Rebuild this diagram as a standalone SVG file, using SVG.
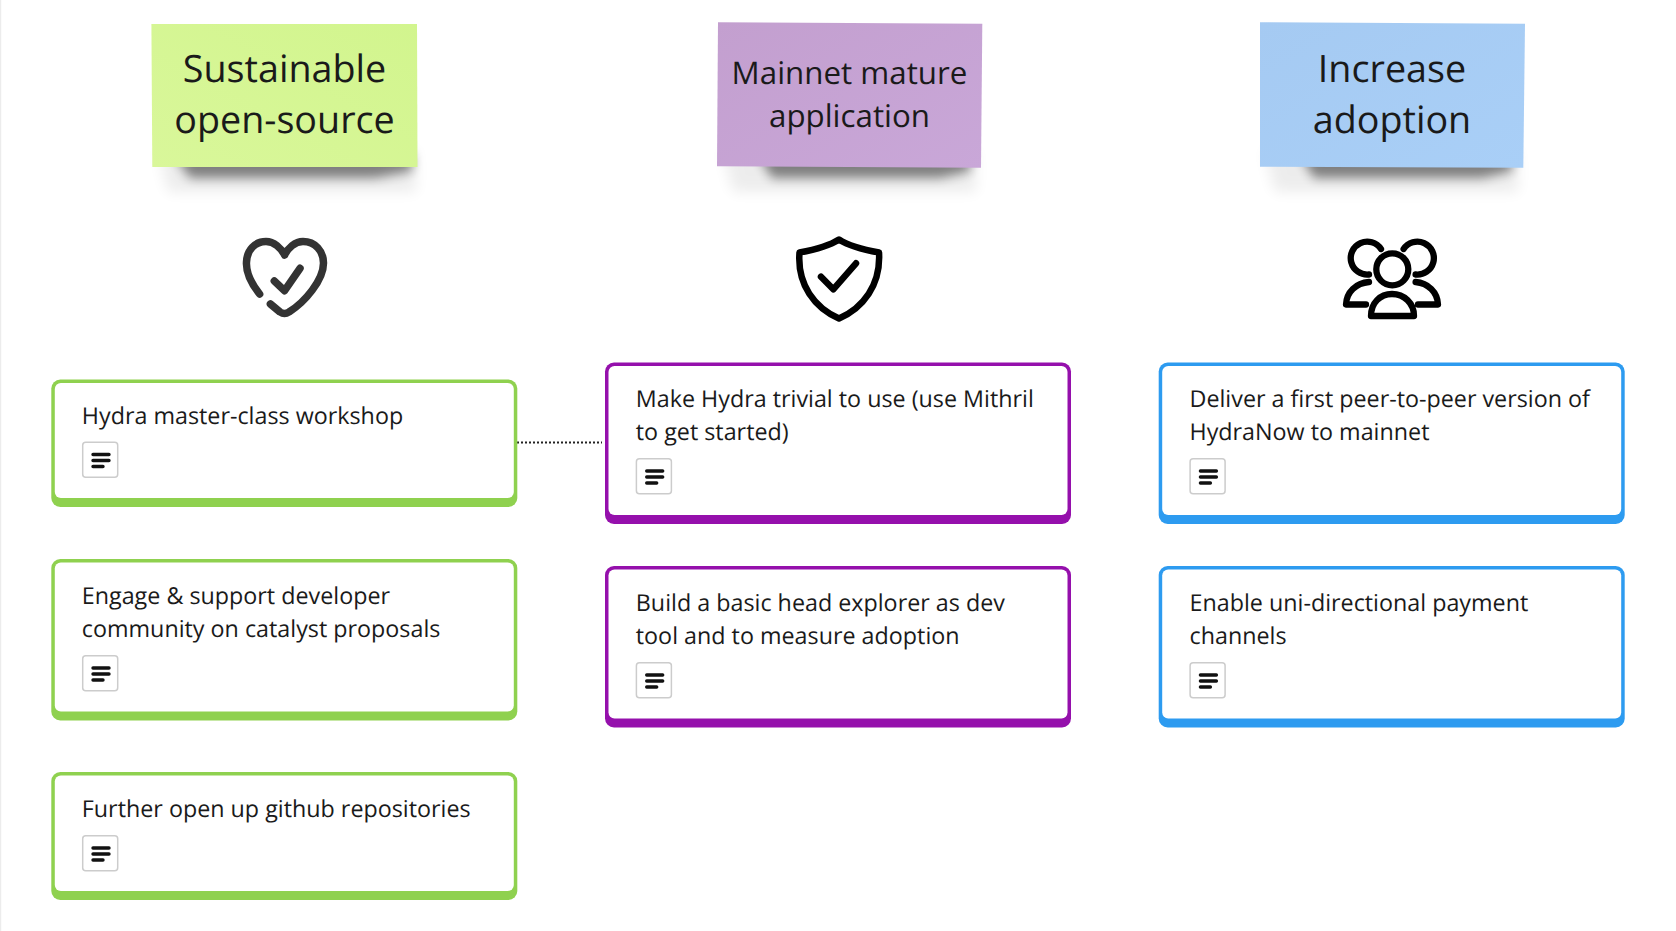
<svg xmlns="http://www.w3.org/2000/svg" width="1676" height="931" viewBox="0 0 1676 931">
<style>
text{font-family:"Open Sans","Noto Sans","Liberation Sans",sans-serif;fill:#1a1a1a;text-rendering:geometricPrecision}
.t{font-size:23.3px}
.h{font-size:37.7px;text-anchor:middle}
.m{font-size:31.3px;text-anchor:middle}
.b{fill:#fff;stroke:#ccc;stroke-width:1.5}
.l{stroke:#111;stroke-width:3.4;stroke-linecap:round}
.i{fill:none;stroke-linecap:round;stroke-linejoin:round}
.sa{fill:#000;opacity:.46;filter:url(#b1)}
.sb{fill:#000;opacity:.07;filter:url(#b2)}
.g{fill:#8fd14f}.p{fill:#9510ac}.c{fill:#2d9bf0}
</style>
<defs>
<filter id="b1" x="-20%" y="-100%" width="140%" height="300%"><feGaussianBlur stdDeviation="5.500"/></filter>
<filter id="b2" x="-20%" y="-100%" width="140%" height="300%"><feGaussianBlur stdDeviation="7"/></filter>
<linearGradient id="gg" x1="0" y1="1" x2="1" y2="0"><stop offset="0" stop-color="#d9f79a"/><stop offset="1" stop-color="#d2f58e"/></linearGradient>
<linearGradient id="gp" x1="0" y1="0" x2="1" y2="1"><stop offset="0" stop-color="#c39fcf"/><stop offset="1" stop-color="#c9a7d8"/></linearGradient>
<linearGradient id="gb" x1="0" y1="0" x2="1" y2="1"><stop offset="0" stop-color="#a5caf2"/><stop offset="1" stop-color="#a9cff7"/></linearGradient>
<g id="btn"><rect class="b" x="0.7" y="0.7" width="35" height="35" rx="3"/><path class="l" d="M11 13H27M11 19H27M11 25H21"/></g>
</defs>
<rect width="1676" height="931" fill="#fff"/>
<rect width="1.2" height="931" fill="#ececec"/>
<g id="connectors"><path d="M517 442.500H602" fill="none" stroke="#222" stroke-width="2" stroke-dasharray="2 2"/></g>

<g id="sticky-1">
<path class="sb" d="M158 150H416V192H168Z"/><path class="sa" d="M174 155H412V171L375 178H190Z"/>
<path d="M151.400 24H417L417.500 167H152.300Z" fill="url(#gg)"/>
<text class="h"><tspan x="284.500" y="81.600">Sustainable</tspan><tspan x="284.500" y="132.600">open-source</tspan></text></g>
<g id="sticky-2">
<path class="sb" d="M722 150H976V192H733Z"/><path class="sa" d="M758 155H970V171L940 178H772Z"/>
<path d="M718 22.300L982.300 23.700L981 167.700L717 166.300Z" fill="url(#gp)"/>
<text class="m"><tspan x="849.500" y="83.500">Mainnet mature</tspan><tspan x="849.500" y="127">application</tspan></text></g>
<g id="sticky-3">
<path class="sb" d="M1264 150H1518V192H1275Z"/><path class="sa" d="M1300 155H1512V171L1482 178H1314Z"/>
<path d="M1260 22.300L1525 23.700L1523.300 167.700L1260 166.700Z" fill="url(#gb)"/>
<text class="h"><tspan x="1392" y="81.600">Increase</tspan><tspan x="1392" y="132.600">adoption</tspan></text></g>

<g id="icon-heart"><path class="i" stroke="#333" stroke-width="7.500" d="M259.600 294C250 282 246 270 246.500 262C247 250 255 241.500 266 241.500C274 241.500 281 248 284.600 255C288 248 295 241.500 303 241.500C315 241.500 323.500 251 323.500 263C323.500 280 305 302 289 312C286 314 283 314 280 312L270.400 304M274.300 281L284.600 290.700L300 268.300"/></g>
<g id="icon-shield"><path class="i" stroke="#000" stroke-width="6.500" d="M839 239.500C829 246 813 250 799.500 252.500C797 285 815 308 839 318.500C863 308 881 285 879 252.500C865 250 849 246 839 239.500ZM821 276.700L833.300 289.300L856 263.300"/></g>
<g id="icon-users"><g class="i" stroke="#000" stroke-width="6.300" ><circle cx="1392.300" cy="269.300" r="16"/><path d="M1381 249A16.500 16.500 0 1 0 1369 274.500M1403.600 249A16.500 16.500 0 1 1 1415.600 274.500M1369 282C1356 283 1346.500 292 1346 304.500H1366M1415.600 282C1428 283 1437.500 292 1438 304.500H1418M1371 316C1371 303 1380 294 1392 294C1404 294 1414 303 1414 316Z"/></g></g>

<g id="card-1"><rect class="g" x="51.300" y="379.500" width="466" height="127.500" rx="9"/><rect fill="#fff" x="54.800" y="383" width="459" height="115" rx="6"/>
<text class="t" x="81.800" y="424">Hydra master-class workshop</text><use href="#btn" x="82" y="441.500"/></g>
<g id="card-2"><rect class="g" x="51.300" y="559" width="466" height="161.500" rx="9"/><rect fill="#fff" x="54.800" y="562.500" width="459" height="149" rx="6"/>
<text class="t"><tspan x="81.800" y="604">Engage &amp; support developer</tspan><tspan x="81.800" y="637">community on catalyst proposals</tspan></text><use href="#btn" x="82" y="655"/></g>
<g id="card-3"><rect class="g" x="51.300" y="772" width="466" height="128" rx="9"/><rect fill="#fff" x="54.800" y="775.500" width="459" height="115.500" rx="6"/>
<text class="t" x="81.800" y="817">Further open up github repositories</text><use href="#btn" x="82" y="835"/></g>

<g id="card-4"><rect class="p" x="605" y="362.500" width="466" height="161.500" rx="9"/><rect fill="#fff" x="608.500" y="366" width="459" height="149" rx="6"/>
<text class="t"><tspan x="635.800" y="407">Make Hydra trivial to use (use Mithril</tspan><tspan x="635.800" y="440">to get started)</tspan></text><use href="#btn" x="635.700" y="458"/></g>
<g id="card-5"><rect class="p" x="605" y="566" width="466" height="161.500" rx="9"/><rect fill="#fff" x="608.500" y="569.500" width="459" height="149" rx="6"/>
<text class="t"><tspan x="635.800" y="611">Build a basic head explorer as dev</tspan><tspan x="635.800" y="644">tool and to measure adoption</tspan></text><use href="#btn" x="635.700" y="662"/></g>

<g id="card-6"><rect class="c" x="1158.700" y="362.500" width="466" height="161.500" rx="9"/><rect fill="#fff" x="1162.200" y="366" width="459" height="149" rx="6"/>
<text class="t"><tspan x="1189.500" y="407">Deliver a first peer-to-peer version of</tspan><tspan x="1189.500" y="440">HydraNow to mainnet</tspan></text><use href="#btn" x="1189.400" y="458"/></g>
<g id="card-7"><rect class="c" x="1158.700" y="566" width="466" height="161.500" rx="9"/><rect fill="#fff" x="1162.200" y="569.500" width="459" height="149" rx="6"/>
<text class="t"><tspan x="1189.500" y="611">Enable uni-directional payment</tspan><tspan x="1189.500" y="644">channels</tspan></text><use href="#btn" x="1189.400" y="662"/></g>
</svg>
